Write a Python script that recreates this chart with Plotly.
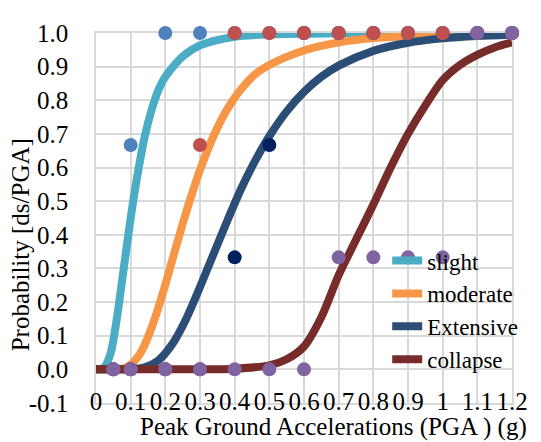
import plotly.graph_objects as go

# ---- data ----
curve_names = ["slight", "moderate", "Extensive", "collapse"]
curve_colors = ["#4BACC6", "#F79646", "#2C4D75", "#772C2A"]

slight_x = [0, 0.02, 0.04, 0.06, 0.08, 0.10, 0.12, 0.14, 0.16, 0.18, 0.20, 0.25, 0.30, 0.40, 0.50, 0.70, 1.0, 1.2]
slight_y = [0, 0.002, 0.04, 0.15, 0.30, 0.45, 0.58, 0.69, 0.77, 0.83, 0.87, 0.93, 0.963, 0.989, 0.996, 0.9995, 1.0, 1.0]

moderate_x = [0, 0.06, 0.08, 0.10, 0.12, 0.14, 0.16, 0.18, 0.20, 0.22, 0.24, 0.26, 0.28, 0.30, 0.34, 0.38, 0.42, 0.46, 0.50, 0.60, 0.70, 0.80, 0.90, 1.0, 1.2]
moderate_y = [0, 0.0004, 0.0035, 0.014, 0.036, 0.072, 0.123, 0.184, 0.252, 0.325, 0.397, 0.467, 0.532, 0.593, 0.696, 0.776, 0.835, 0.878, 0.905, 0.948, 0.972, 0.985, 0.99, 0.994, 0.998]

extensive_x = [0, 0.10, 0.14, 0.18, 0.22, 0.26, 0.30, 0.34, 0.38, 0.42, 0.46, 0.50, 0.55, 0.60, 0.65, 0.70, 0.80, 0.90, 1.0, 1.1, 1.2]
extensive_y = [0, 0.0004, 0.006, 0.027, 0.075, 0.15, 0.245, 0.345, 0.445, 0.54, 0.622, 0.693, 0.767, 0.825, 0.87, 0.903, 0.947, 0.971, 0.984, 0.991, 0.995]

collapse_x = [0, 0.3, 0.4, 0.5, 0.55, 0.6, 0.65, 0.7, 0.75, 0.8, 0.85, 0.9, 0.95, 1.0, 1.05, 1.1, 1.15, 1.2]
collapse_y = [0, 0.0, 0.002, 0.012, 0.03, 0.068, 0.155, 0.28, 0.385, 0.49, 0.6, 0.70, 0.785, 0.86, 0.905, 0.935, 0.957, 0.972]

pga = [0.05, 0.1, 0.2, 0.3, 0.4, 0.5, 0.6, 0.7, 0.8, 0.9, 1.0, 1.1, 1.2]
obs_slight = [0, 0.667, 1, 1, 1, 1, 1, 1, 1, 1, 1, 1, 1]
obs_moderate = [0, 0, 0, 0.667, 1, 1, 1, 1, 1, 1, 1, 1, 1]
obs_extensive = [0, 0, 0, 0, 0.333, 0.667, 1, 1, 1, 1, 1, 1, 1]
obs_collapse = [0, 0, 0, 0, 0, 0, 0, 0.333, 0.333, 0.333, 0.333, 1, 1]
obs_colors = {"slight": "#4F81BD", "moderate": "#C0504D", "Extensive": "#002060", "collapse": "#8064A2"}

x_ticks = [0, 0.1, 0.2, 0.3, 0.4, 0.5, 0.6, 0.7, 0.8, 0.9, 1.0, 1.1, 1.2]
x_ticktext = ["0", "0.1", "0.2", "0.3", "0.4", "0.5", "0.6", "0.7", "0.8", "0.9", "1", "1.1", "1.2"]
y_ticks = [-0.1, 0, 0.1, 0.2, 0.3, 0.4, 0.5, 0.6, 0.7, 0.8, 0.9, 1.0]
y_ticktext = ["-0.1", "0.0", "0.1", "0.2", "0.3", "0.4", "0.5", "0.6", "0.7", "0.8", "0.9", "1.0"]

x_title = "Peak Ground Accelerations (PGA ) (g)"
y_title = "Probability [ds/PGA]"

FONT = "Liberation Serif"
FS = 25
GRID = "#D9D9D9"

fig = go.Figure()

curves = [(slight_x, slight_y), (moderate_x, moderate_y), (extensive_x, extensive_y), (collapse_x, collapse_y)]
for (cx, cy), name, col in zip(curves, curve_names, curve_colors):
    fig.add_trace(go.Scatter(
        x=cx, y=cy, mode="lines", name=name,
        line=dict(color=col, width=8, shape="spline", smoothing=0.8),
        cliponaxis=False,
    ))

obs_order = [("Extensive", obs_extensive), ("slight", obs_slight), ("moderate", obs_moderate), ("collapse", obs_collapse)]
for name, vals in obs_order:
    fig.add_trace(go.Scatter(
        x=pga, y=vals, mode="markers", showlegend=False,
        marker=dict(size=14, color=obs_colors[name], line=dict(width=0)),
        cliponaxis=False,
    ))

fig.update_layout(
    width=541, height=442,
    margin=dict(l=88, r=37, t=13, b=47),
    paper_bgcolor="white", plot_bgcolor="white",
    font=dict(family=FONT, size=FS, color="black"),
    showlegend=True,
    legend=dict(
        x=0.70, y=0.443, xanchor="left", yanchor="top",
        bgcolor="rgba(0,0,0,0)", borderwidth=0,
        font=dict(family=FONT, size=23, color="black"),
        itemwidth=30,
    ),
    xaxis=dict(
        range=[0, 1.2], tickmode="array", tickvals=x_ticks, ticktext=x_ticktext,
        tickangle=0, showgrid=True, gridcolor=GRID, gridwidth=1.5,
        zeroline=False, showline=True, linecolor=GRID, linewidth=1.5, mirror=True,
        ticks="", ticklabelstandoff=-25, ticklabeloverflow="allow",
        tickfont=dict(family=FONT, size=FS, color="black"),
        layer="below traces",
    ),
    yaxis=dict(
        range=[-0.1, 1.0], tickmode="array", tickvals=y_ticks, ticktext=y_ticktext,
        showgrid=True, gridcolor=GRID, gridwidth=1.5,
        zeroline=False, showline=True, linecolor=GRID, linewidth=1.5, mirror=True,
        ticks="outside", ticklen=21, tickcolor="rgba(0,0,0,0)",
        ticklabeloverflow="allow",
        tickfont=dict(family=FONT, size=FS, color="black"),
        layer="below traces",
    ),
    annotations=[
        dict(text=x_title, xref="paper", yref="paper", x=0.570, y=-0.064,
             xanchor="center", yanchor="middle", showarrow=False,
             font=dict(family=FONT, size=FS, color="black")),
        dict(text=y_title, xref="paper", yref="paper", x=-0.181, y=0.428,
             xanchor="center", yanchor="middle", showarrow=False, textangle=-90,
             font=dict(family=FONT, size=FS, color="black")),
    ],
)

fig.write_html("out.html")
